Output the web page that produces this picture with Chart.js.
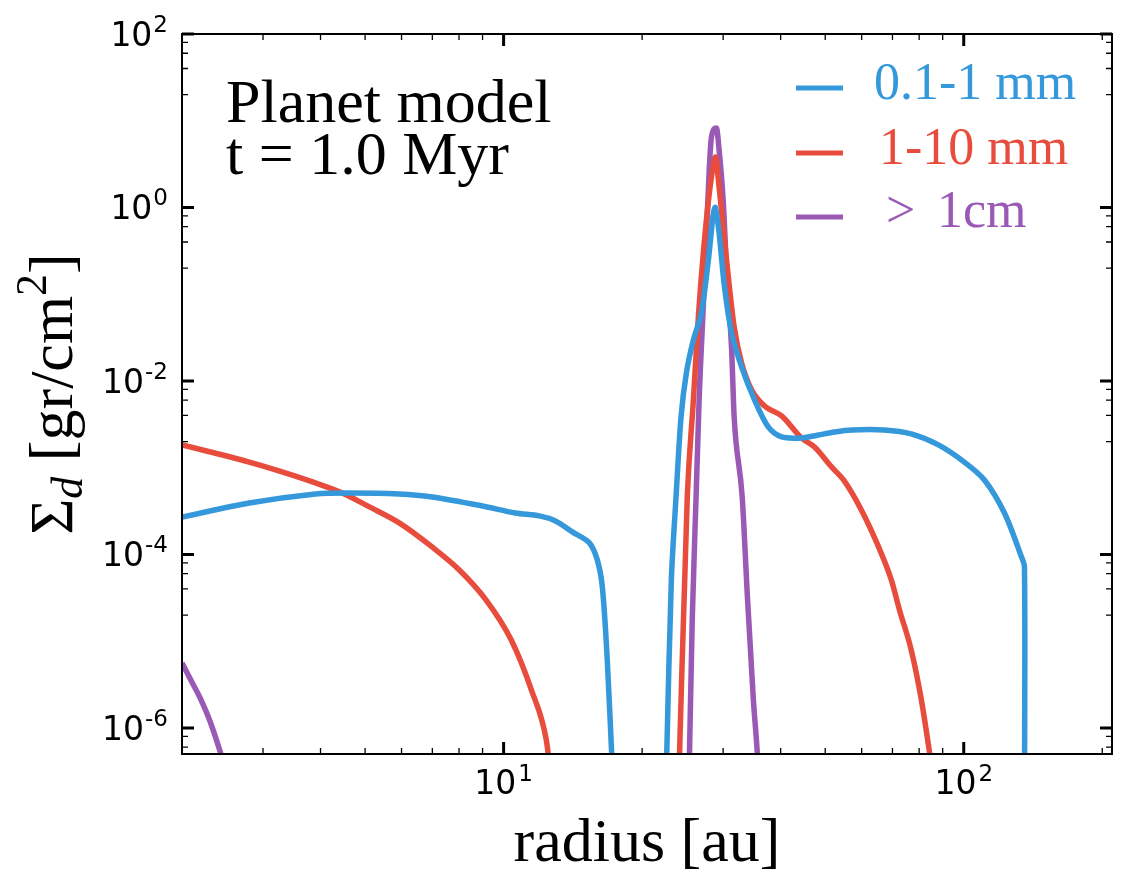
<!DOCTYPE html>
<html>
<head>
<meta charset="utf-8">
<script src="https://cdn.jsdelivr.net/npm/chart.js@4.4.0/dist/chart.umd.min.js"></script>
<style>
  html, body { margin: 0; padding: 0; background: #fff; }
</style>
</head>
<body>
<canvas id="sigmaChart" width="1127" height="885"></canvas>
<script>
// radius [au] and surface density [gr/cm^2] (null = gap below the axis)
var smallR = [2.0, 2.8, 3.9, 4.61, 5.93, 6.99, 8.99, 10.6, 11.96, 12.96, 14.1, 15.36, 15.98, 16.39, 16.8, 17.25, 20,
  22.6, 23.15, 23.7, 24.3, 24.96, 25.85, 26.9, 27.86, 28.57, 28.86, 29.4, 30.2, 31.3, 32.9, 35.1, 37.6, 40.2,
  44.4, 48.3, 52.4, 57.0, 67.2, 76.9, 88.1, 100.3, 110.9, 122.6, 133.5, 135.5, 135.6];
var smallS = [2.7e-4, 3.92e-4, 4.98e-4, 5.11e-4, 4.98e-4, 4.6e-4, 3.62e-4, 3.0e-4, 2.78e-4, 2.43e-4, 1.82e-4, 1.36e-4, 8.65e-5, 4.2e-5, 6e-6, 3e-7, null,
  4e-7, 5.1e-5, 4.6e-4, 3.85e-3, 1.24e-2, 2.97e-2, 6.08e-2, 0.248, 0.865, 1.0, 0.508, 0.121, 3.57e-2, 1.45e-2, 6.04e-3, 2.95e-3, 2.26e-3,
  2.2e-3, 2.38e-3, 2.58e-3, 2.72e-3, 2.72e-3, 2.45e-3, 1.83e-3, 1.16e-3, 7.22e-4, 3.0e-4, 9.35e-5, 7.2e-5, 3e-7];

var midR = [2.0, 2.8, 3.3, 3.9, 4.46, 5.11, 5.93, 6.99, 8.01, 9.12, 10.39, 11.49, 12.38, 12.6, 18,
  24.05, 25.07, 25.85, 26.5, 27.2, 28.0, 28.7, 28.86, 29.4, 30.2, 30.95, 31.7, 32.9, 34.6, 36.9, 40.2,
  44.4, 47.4, 51.6, 54.8, 59.9, 65.3, 69.6, 72.5, 76.9, 80.9, 85.6];
var midS = [1.83e-3, 1.16e-3, 8.94e-4, 6.67e-4, 5.11e-4, 3.53e-4, 2.31e-4, 1.22e-4, 6.62e-5, 3.07e-5, 1.03e-5, 2.74e-6, 7.28e-7, 3.5e-7, null,
  3e-7, 4.6e-4, 6.04e-3, 5.47e-2, 0.324, 1.47, 3.53, 3.82, 1.72, 0.422, 0.121, 4.19e-2, 1.61e-2, 7.87e-3, 5.15e-3, 3.95e-3,
  2.2e-3, 1.73e-3, 1.02e-3, 7.22e-4, 3.26e-4, 1.22e-4, 5.08e-5, 2.29e-5, 7.9e-6, 2.1e-6, 3e-7];

var bigR = [2.0, 2.1, 2.2, 2.3, 2.43, 2.5, 10,
  25.3, 25.7, 26.2, 26.6, 27.2, 27.6, 28.0, 28.3, 29.0, 29.4, 30.0, 30.5, 31.3, 31.7, 33.0, 33.9, 34.9, 35.6, 35.9];
var bigS = [5.6e-6, 3.4e-6, 2.1e-6, 1.2e-6, 5e-7, 3e-7, null,
  3e-7, 1.76e-5, 4.6e-4, 6.04e-3, 8.58e-2, 0.508, 2.93, 6.5, 8.25, 4.6, 1.22, 0.206, 2.28e-2, 3.85e-3, 4.6e-4, 3.0e-5, 2.1e-6, 5e-7, 2e-7];

var seriesNames = ['0.1-1 mm', '1-10 mm', '>1cm'];
var seriesColors = ['#3498db', '#e74c3c', '#9b59b6'];

var xMajor = [10, 100];
var xMajorExp = ['1', '2'];
var xMinor = [2, 3, 4, 5, 6, 7, 8, 9, 20, 30, 40, 50, 60, 70, 80, 90, 200];
var yMajor = [100, 1, 1e-2, 1e-4, 1e-6];
var yMajorExp = ['2', '0', '-2', '-4', '-6'];
var yMinor = [];
[1, -1, -3, -5, -7].forEach(function(e){
  [2, 4, 6, 8].forEach(function(m){ yMinor.push(m * Math.pow(10, e)); });
});

function pts(xs, ys){
  return xs.map(function(x, i){ return {x: x, y: ys[i]}; });
}

var frame = {
  id: 'frame',
  afterDatasetsDraw: function(chart){
    var ctx = chart.ctx, a = chart.chartArea;
    var xs = chart.scales.x, ys = chart.scales.y;
    ctx.save();
    ctx.strokeStyle = '#000';
    ctx.lineCap = 'butt';

    function tickX(list, len, w){
      ctx.lineWidth = w;
      list.forEach(function(v){
        var p = xs.getPixelForValue(v);
        if (p < a.left + 1 || p > a.right - 1) return;
        ctx.beginPath();
        ctx.moveTo(p, a.bottom); ctx.lineTo(p, a.bottom - len);
        ctx.moveTo(p, a.top); ctx.lineTo(p, a.top + len);
        ctx.stroke();
      });
    }
    function tickY(list, len, w){
      ctx.lineWidth = w;
      list.forEach(function(v){
        var p = ys.getPixelForValue(v);
        if (p < a.top - 1 || p > a.bottom + 1) return;
        ctx.beginPath();
        ctx.moveTo(a.left, p); ctx.lineTo(a.left + len, p);
        ctx.moveTo(a.right, p); ctx.lineTo(a.right - len, p);
        ctx.stroke();
      });
    }
    tickX(xMinor, 6, 1.3);
    tickY(yMinor, 6, 1.3);
    tickX(xMajor, 12, 3);
    tickY(yMajor, 12, 3);

    ctx.lineWidth = 2;
    ctx.strokeRect(a.left, a.top, a.right - a.left, a.bottom - a.top);

    // tick labels: 10 with a raised exponent
    ctx.fillStyle = '#000';
    ctx.textBaseline = 'alphabetic';
    var big = '33px "DejaVu Sans"', sup = '23px "DejaVu Sans"';
    yMajor.forEach(function(v, i){
      var p = ys.getPixelForValue(v);
      ctx.font = sup;
      var ew = ctx.measureText(yMajorExp[i]).width;
      ctx.textAlign = 'right';
      ctx.fillText(yMajorExp[i], 168, p - 2);
      ctx.font = big;
      ctx.fillText('10', 168 - ew - 1, p + 12);
    });
    xMajor.forEach(function(v, i){
      var p = xs.getPixelForValue(v);
      ctx.font = big;
      var bw = ctx.measureText('10').width;
      ctx.font = sup;
      var ew = ctx.measureText(xMajorExp[i]).width;
      var x0 = p - (bw + 2 + ew) / 2;
      ctx.textAlign = 'left';
      ctx.font = big;
      ctx.fillText('10', x0, 794);
      ctx.font = sup;
      ctx.fillText(xMajorExp[i], x0 + bw + 2, 781);
    });

    // axis titles
    ctx.font = '62px "Liberation Serif"';
    ctx.textAlign = 'center';
    ctx.fillText('radius [au]', (a.left + a.right) / 2, 861);

    ctx.save();
    ctx.translate(72, (a.top + a.bottom) / 2);
    ctx.rotate(-Math.PI / 2);
    var parts = [
      {t: '\u03A3', f: '62px "Liberation Serif"', dy: 0},
      {t: 'd', f: 'italic 44px "Liberation Serif"', dy: 10},
      {t: ' [gr/cm', f: '62px "Liberation Serif"', dy: 0},
      {t: '2', f: '44px "Liberation Serif"', dy: -26},
      {t: ']', f: '62px "Liberation Serif"', dy: 0}
    ];
    var total = 0;
    parts.forEach(function(q){ ctx.font = q.f; q.w = ctx.measureText(q.t).width; total += q.w; });
    var cx = -total / 2;
    ctx.textAlign = 'left';
    parts.forEach(function(q){ ctx.font = q.f; ctx.fillText(q.t, cx, q.dy); cx += q.w; });
    ctx.restore();

    // annotation
    ctx.font = '62px "Liberation Serif"';
    ctx.textAlign = 'left';
    ctx.fillText('Planet model', 226, 122);
    ctx.fillText('t = 1.0 Myr', 226, 174);

    // legend
    var ly = [88, 153, 217];
    ctx.lineWidth = 5;
    seriesNames.forEach(function(n, i){
      ctx.strokeStyle = seriesColors[i];
      ctx.beginPath();
      ctx.moveTo(796, ly[i]); ctx.lineTo(843, ly[i]);
      ctx.stroke();
      ctx.fillStyle = seriesColors[i];
      ctx.font = '52px "Liberation Serif"';
      if (i === 2) {
        ctx.fillText('>', 886, ly[i] + 10);
        ctx.fillText('1cm', 937, ly[i] + 10);
      } else {
        ctx.fillText(n, i === 0 ? 874 : 879, ly[i] + 11);
      }
    });
    ctx.restore();
  }
};

var chart = new Chart(document.getElementById('sigmaChart').getContext('2d'), {
  type: 'line',
  data: {
    datasets: [
      {label: seriesNames[0], data: pts(smallR, smallS), borderColor: seriesColors[0],
        cubicInterpolationMode: 'default', tension: 0.3},
      {label: seriesNames[1], data: pts(midR, midS), borderColor: seriesColors[1]},
      {label: seriesNames[2], data: pts(bigR, bigS), borderColor: seriesColors[2]}
    ]
  },
  options: {
    responsive: false,
    animation: false,
    spanGaps: false,
    datasets: {
      line: {borderWidth: 5.5, pointRadius: 0, cubicInterpolationMode: 'monotone', fill: false, clip: 0, borderJoinStyle: 'round'}
    },
    layout: {padding: {left: 182, right: 15, top: 34, bottom: 131}},
    plugins: {legend: {display: false}, tooltip: {enabled: false}},
    scales: {
      x: {
        type: 'logarithmic', min: 2, max: 210,
        grid: {display: false}, border: {display: false},
        ticks: {display: false},
        afterFit: function(s){ s.height = 0; }
      },
      y: {
        type: 'logarithmic', min: 5e-7, max: 100,
        grid: {display: false}, border: {display: false},
        ticks: {display: false},
        afterFit: function(s){ s.width = 0; }
      }
    }
  },
  plugins: [frame]
});
</script>
</body>
</html>
